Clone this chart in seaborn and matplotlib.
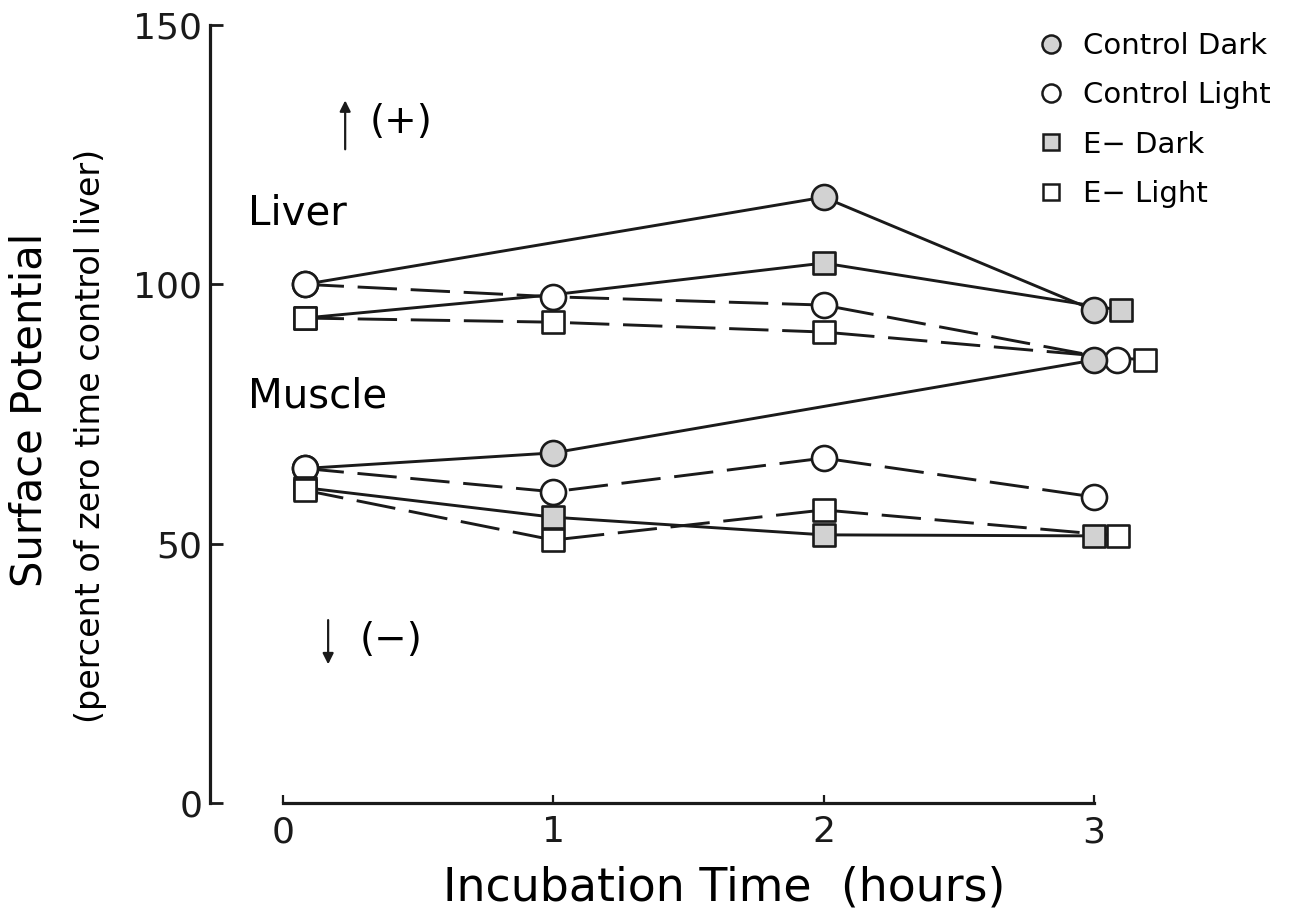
import matplotlib
matplotlib.use("Agg")
import matplotlib.pyplot as plt
from matplotlib.lines import Line2D
import pandas as pd
import seaborn as sns

# valori (tempo in ore, potenziale in % del fegato di controllo a t=0)
liver_ctrl_dark_t = [0.08, 2, 3.0]
liver_ctrl_dark_v = [100, 116.8, 95]
liver_ctrl_light_t = [0.08, 1, 2, 3.085]
liver_ctrl_light_v = [100, 97.6, 96.0, 85.4]
liver_e_dark_t = [0.08, 1, 2, 3.1]
liver_e_dark_v = [93.5, 98, 104.1, 95]
liver_e_light_t = [0.08, 1, 2, 3.19]
liver_e_light_v = [93.5, 92.7, 90.8, 85.4]

muscle_ctrl_dark_t = [0.08, 1, 3.0]
muscle_ctrl_dark_v = [64.5, 67.5, 85.4]
muscle_ctrl_light_t = [0.08, 1, 2, 3.0]
muscle_ctrl_light_v = [64.5, 60.0, 66.5, 59.0]
muscle_e_dark_t = [0.08, 1, 2, 3.0]
muscle_e_dark_v = [60.8, 55.1, 51.7, 51.5]
muscle_e_light_t = [0.08, 1, 2, 3.09]
muscle_e_light_v = [60.3, 50.7, 56.5, 51.5]

x_ticks = [0, 1, 2, 3]
y_ticks = [0, 50, 100, 150]
legend_labels = ["Control Dark", "Control Light", "E\u2212 Dark", "E\u2212 Light"]

DARK = "#d2d2d2"
LIGHT = "white"
DASH = (0, (13.5, 4.7))

# (tempi, valori, marker, riempimento, tratteggiata, indici senza marker)
series = [
    (liver_ctrl_dark_t, liver_ctrl_dark_v, "o", DARK, False, []),
    (liver_ctrl_light_t, liver_ctrl_light_v, "o", LIGHT, True, []),
    (liver_e_dark_t, liver_e_dark_v, "s", DARK, False, [1]),
    (liver_e_light_t, liver_e_light_v, "s", LIGHT, True, []),
    (muscle_ctrl_dark_t, muscle_ctrl_dark_v, "o", DARK, False, []),
    (muscle_ctrl_light_t, muscle_ctrl_light_v, "o", LIGHT, True, []),
    (muscle_e_dark_t, muscle_e_dark_v, "s", DARK, False, []),
    (muscle_e_light_t, muscle_e_light_v, "s", LIGHT, True, []),
]

sns.set_theme(style="white")
plt.rcParams["font.family"] = ["DejaVu Sans"]
for key in ["text.color", "axes.labelcolor", "xtick.color", "ytick.color"]:
    plt.rcParams[key] = "black"

fig = plt.figure(figsize=(12.95, 9.16), dpi=100)
ax = fig.add_axes([210 / 1295, 113 / 916, 1080 / 1295, 778 / 916])

# prima le linee
for t, v, marker, fill, dashed, hidden in series:
    df = pd.DataFrame({"t": t, "v": v})
    sns.lineplot(data=df, x="t", y="v", ax=ax, color="k", linewidth=2.1,
                 linestyle=DASH if dashed else "-", errorbar=None,
                 zorder=2, clip_on=False)

# poi i marker, sopra le linee
for t, v, marker, fill, dashed, hidden in series:
    keep = [i for i in range(len(t)) if i not in hidden]
    size = 18 if marker == "o" else 16
    sns.scatterplot(x=[t[i] for i in keep], y=[v[i] for i in keep], ax=ax,
                    marker=marker, s=size ** 2, color=fill, edgecolor="k",
                    linewidth=1.9, zorder=3, clip_on=False, legend=False)

ax.set_xlim(-0.27, 3.725)
ax.set_ylim(0, 150)
ax.set_xticks(x_ticks)
ax.set_yticks(y_ticks)
ax.tick_params(axis="y", left=True, direction="in", length=9, width=2,
               pad=5.5, labelsize=26, color="k", labelcolor="k")
ax.tick_params(axis="x", bottom=True, direction="in", length=6, width=1.6,
               pad=9, labelsize=26, color="k", labelcolor="k")

sns.despine(ax=ax)
ax.spines["left"].set_bounds(0, 150)
ax.spines["bottom"].set_bounds(0, 3)
for side in ["left", "bottom"]:
    ax.spines[side].set_linewidth(2.3)
    ax.spines[side].set_color("k")

ax.set_xlabel("Incubation Time  (hours)", fontsize=33)
ax.xaxis.set_label_coords(0.476, -0.109)
ax.xaxis.label.set_va("center")

ax.set_ylabel("(percent of zero time control liver)", fontsize=24)
ax.yaxis.set_label_coords(-0.111, 0.472)
ax.yaxis.label.set_va("center")
ax.text(-0.1667, 0.505, "Surface Potential", transform=ax.transAxes,
        rotation=90, rotation_mode="anchor", ha="center", va="center",
        fontsize=30)

ax.text(-0.13, 113.7, "Liver", ha="left", va="center", fontsize=29)
ax.text(-0.13, 78.3, "Muscle", ha="left", va="center", fontsize=29)

# frecce (+) e (-)
arrow = dict(arrowstyle="-|>", color="k", lw=1.6, mutation_scale=16)
ax.annotate("", xy=(0.23, 136), xytext=(0.23, 125.5), arrowprops=arrow)
ax.text(0.435, 131.3, "(+)", ha="center", va="center", fontsize=28)
ax.annotate("", xy=(0.167, 26.2), xytext=(0.167, 35.8), arrowprops=arrow)
ax.text(0.40, 31.4, "(\u2212)", ha="center", va="center", fontsize=28)

handles = [
    Line2D([], [], marker="o", ls="none", mfc=DARK, mec="k", mew=1.8, ms=13),
    Line2D([], [], marker="o", ls="none", mfc=LIGHT, mec="k", mew=1.8, ms=13),
    Line2D([], [], marker="s", ls="none", mfc=DARK, mec="k", mew=1.8, ms=11.5),
    Line2D([], [], marker="s", ls="none", mfc=LIGHT, mec="k", mew=1.8, ms=11.5),
]
fig.legend(handles, legend_labels, loc="upper left",
           bbox_to_anchor=(1036 / 1295, 1 - 32 / 916), frameon=False,
           fontsize=21, handlelength=1.0, handletextpad=0.6,
           labelspacing=0.73, borderpad=0, borderaxespad=0)

fig.savefig("out.png", dpi=100)
